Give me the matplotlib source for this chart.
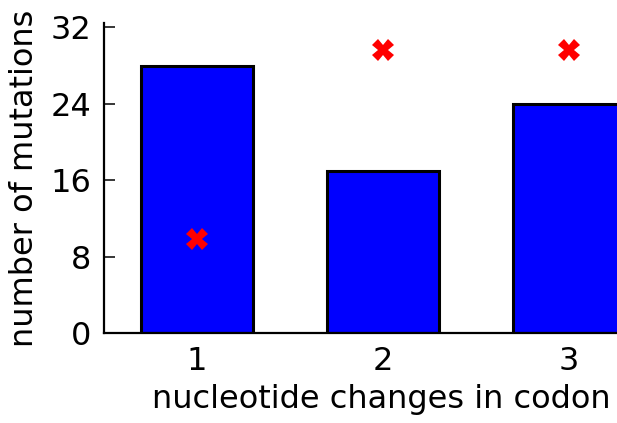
import matplotlib
matplotlib.use("Agg")
import matplotlib.pyplot as plt

categories = [1, 2, 3]
counts = [28, 17, 24]
expected = [9.8, 29.6, 29.6]
yticks = [0, 8, 16, 24, 32]

fig = plt.figure(figsize=(6.17, 4.23), dpi=100)
ax = fig.add_axes([104/617, 90/423, 1 - 104/617, (333-22.7)/423])
ax.bar(categories, counts, width=0.6, color='#0000ff', edgecolor='black', linewidth=2.2, zorder=2)
ax.plot(categories, expected, linestyle='none', marker='X', color='#ff0000', markersize=15.5, markeredgewidth=0, zorder=3)
ax.set_xlim(0.5, 0.5 + (617-104)/186)
ax.set_ylim(0, 32.5)
ax.set_yticks(yticks)
ax.set_xticks(categories)
ax.spines['top'].set_visible(False)
ax.spines['right'].set_visible(False)
for s in ['left', 'bottom']:
    ax.spines[s].set_linewidth(1.6)
ax.tick_params(direction='in', length=8, width=1.1, labelsize=23)
ax.tick_params(axis='x', pad=9)
ax.tick_params(axis='y', pad=9)
ax.set_xlabel('nucleotide changes in codon', fontsize=23)
ax.xaxis.set_label_coords(0.54, -0.165)
ax.set_ylabel('number of mutations', fontsize=23, labelpad=8)
fig.savefig('out.png', dpi=100)
